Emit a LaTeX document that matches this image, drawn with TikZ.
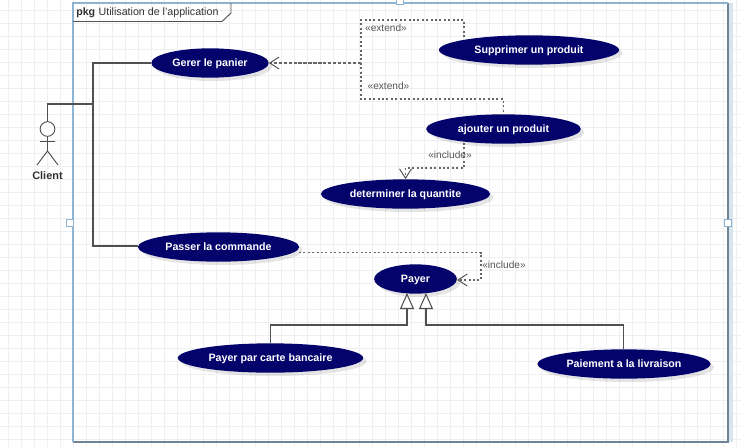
\documentclass[tikz,border=0pt]{standalone}
\usepackage{fontspec}
\setmainfont{Liberation Sans}
\usetikzlibrary{arrows.meta,shapes.geometric,shadows}
\definecolor{navyuc}{HTML}{03036B}
\definecolor{gridc}{HTML}{EDEFF1}
\definecolor{framec}{HTML}{6F8496}
\definecolor{bluec}{HTML}{8DB4D2}
\definecolor{linec}{HTML}{505050}
\definecolor{dotc}{HTML}{666666}
\definecolor{labelc}{HTML}{555555}
\tikzset{
  usecase/.style={ellipse,fill=navyuc,draw=none,inner sep=0pt,minimum height=22pt,text=white,font=\fontsize{8pt}{10pt}\selectfont\bfseries,
    drop shadow={shadow xshift=2.5pt,shadow yshift=-2.5pt,fill=black,opacity=.10}},
  assoc/.style={draw=linec,line width=0.8pt},
  genlink/.style={draw=linec,line width=0.8pt,-{Triangle[open,length=12pt,width=10.5pt,fill=white]}},
  deplink/.style={draw=dotc,line width=0.85pt,dash pattern=on 1.5pt off 1.8pt},
  deparrow/.style={deplink,-{Straight Barb[length=7pt,width=9pt,line width=0.7pt,color=linec]}},
  stereo/.style={text=labelc,font=\fontsize{7.6pt}{9pt}\selectfont,inner sep=0pt},
  handle/.style={draw=bluec,fill=white,line width=0.5pt,minimum size=5pt,inner sep=0pt,shape=rectangle},
}
\newcommand{\uc}[1]{\makebox[0pt]{\smash{\raisebox{-2.9pt}{#1}}}}
\begin{document}
\begin{tikzpicture}[x=0.75pt,y=-0.75pt]
\useasboundingbox (0,0) rectangle (741,447);
\fill[white] (0,0) rectangle (741,447);
% grid
\foreach \gx in {0,13,...,741} \draw[gridc,line width=0.5pt] (\gx+8,0) -- (\gx+8,447);
\foreach \gy in {0,13,...,447} \draw[gridc,line width=0.5pt] (0,\gy+10) -- (741,\gy+10);
% package frame
\draw[bluec!35,line width=3pt] (731,3) -- (731,442);
\draw[framec,line width=1.1pt] (728,3) -- (728,442) -- (73,442);
\draw[bluec,line width=1.3pt] (73,442) -- (73,3) -- (728,3);
\draw[linec,line width=0.7pt] (73,21.5) -- (222,21.5) -- (231,13) -- (231,3);
\node[anchor=west,inner sep=0pt,font=\fontsize{8pt}{9pt}\selectfont,text=black!80] (pkgtitle) at (76,12.5) {\textbf{pkg}\hspace{2.6pt}Utilisation de l'application};
\node[handle] (hL) at (70,223) {};
\node[handle] (hR) at (728,223) {};
\node[handle] (hT) at (400,1) {};
% use cases
\node[usecase,minimum width=88pt] (gerer) at (210,63) {\uc{Gerer le panier}};
\node[usecase,minimum width=135pt] (supp) at (529,50) {\uc{Supprimer un produit}};
\node[usecase,minimum width=116pt] (ajout) at (503.5,129) {\uc{ajouter un produit}};
\node[usecase,minimum width=127pt] (deter) at (405.5,194) {\uc{determiner la quantite}};
\node[usecase,minimum width=121pt] (passer) at (218.5,247) {\uc{Passer la commande}};
\node[usecase,minimum width=62pt] (payer) at (415.5,279) {\uc{Payer}};
\node[usecase,minimum width=139pt] (carte) at (270.5,358) {\uc{Payer par carte bancaire}};
\node[usecase,minimum width=130pt] (livr) at (624,364) {\uc{Paiement a la livraison}};
% actor
\node[circle,draw=linec,fill=white,line width=0.7pt,minimum size=11pt,inner sep=0pt] (head) at (47.5,129) {};
\coordinate (hip) at (47.5,151);
\coordinate (armL) at (40,141.5);
\coordinate (armR) at (55,141.5);
\coordinate (legL) at (37,165);
\coordinate (legR) at (58,165);
\draw[linec,line width=0.7pt] (head.south) -- (hip) (armL) -- (armR) (legL) -- (hip) -- (legR);
\node[inner sep=0pt,font=\fontsize{8.2pt}{10pt}\selectfont\bfseries,text=black!80] (client) at (47.5,176) {Client};
% associations
\coordinate (actTop) at (47.5,104);
\coordinate (trunkMid) at (93,104);
\coordinate (trunkTop) at (93,63);
\coordinate (trunkBot) at (93,246);
\draw[assoc] (head.north) -- (actTop) -- (trunkMid);
\draw[assoc] (gerer.west) -- (trunkTop) -- (trunkBot) -- (passer.west |- trunkBot);
% extend
\coordinate (extJ) at (361,63);
\coordinate (extTL) at (361,20);
\coordinate (extTR) at (464,20);
\coordinate (extBL) at (361,99);
\coordinate (extBR) at (503.5,99);
\coordinate (suppIn) at (464,37);
\draw[deplink] (suppIn) -- (extTR) -- (extTL) -- (extBL) -- (extBR) -- (ajout.north);
\draw[deparrow,dash pattern=on 2.5pt off 1.2pt] (extJ) -- (gerer.east);
\node[stereo] (ext1) at (386,27.5) {«extend»};
\node[stereo] (ext2) at (388.5,86) {«extend»};
% include 1
\coordinate (inc1a) at (464,143);
\coordinate (inc1b) at (464,168);
\coordinate (inc1c) at (405.5,168);
\draw[deparrow] (inc1a) -- (inc1b) -- (inc1c) -- (deter.north);
\node[stereo] (inc1) at (450,155) {«include»};
% include 2
\coordinate (inc2a) at (299,252.5);
\coordinate (inc2b) at (481,252.5);
\coordinate (inc2c) at (481,280);
\draw[deparrow] (inc2a) -- (inc2b) -- (inc2c) -- (payer.east |- inc2c);
\node[stereo] (inc2) at (504,264.5) {«include»};
% generalisations
\coordinate (genL1) at (270.5,325);
\coordinate (genL2) at (407,325);
\coordinate (genLt) at (407,293);
\coordinate (genR1) at (623.5,325);
\coordinate (genR2) at (426,325);
\coordinate (genRt) at (426,293);
\draw[genlink] (carte.north -| genL1) -- (genL1) -- (genL2) -- (genLt);
\draw[genlink] (livr.north -| genR1) -- (genR1) -- (genR2) -- (genRt);
\end{tikzpicture}
\end{document}
